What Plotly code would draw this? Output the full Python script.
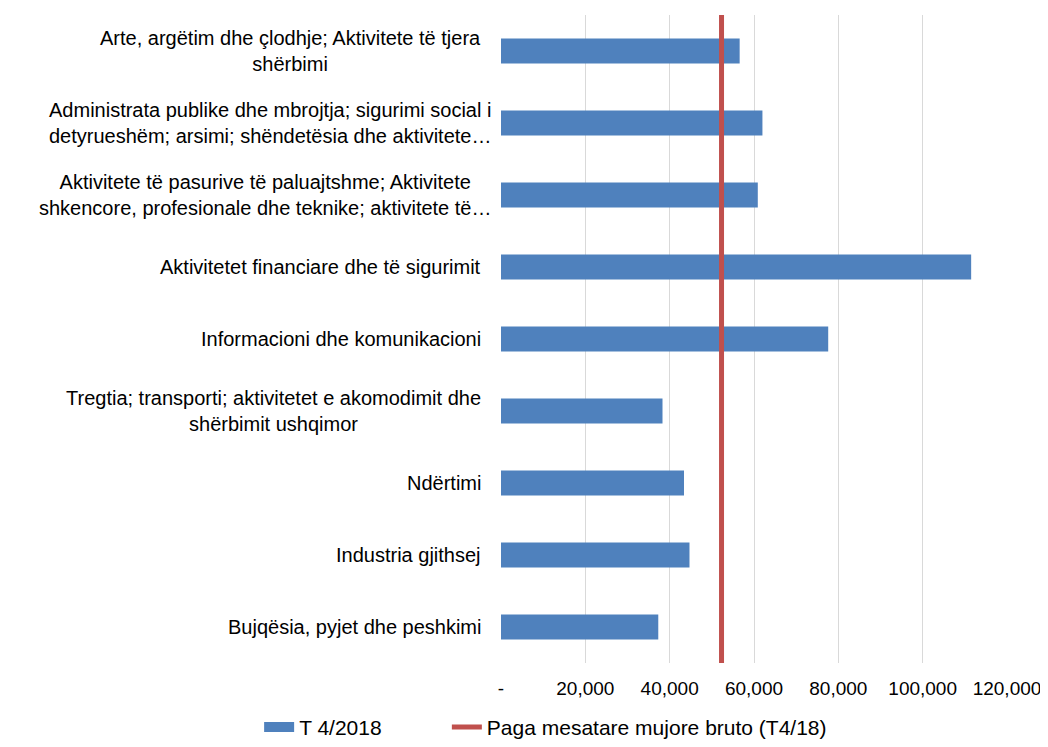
import plotly.graph_objects as go

categories = [
    "Arte, argëtim dhe çlodhje; Aktivitete të tjera<br>shërbimi",
    "Administrata publike dhe mbrojtja; sigurimi social i<br>detyrueshëm; arsimi; shëndetësia dhe aktivitete…",
    "Aktivitete të pasurive të paluajtshme; Aktivitete<br>shkencore, profesionale dhe teknike; aktivitete të…",
    "Aktivitetet financiare dhe të sigurimit",
    "Informacioni dhe komunikacioni",
    "Tregtia; transporti; aktivitetet e akomodimit dhe<br>shërbimit ushqimor",
    "Ndërtimi",
    "Industria gjithsej",
    "Bujqësia, pyjet dhe peshkimi",
]
wages_q4_2018 = [56600, 62000, 60900, 111500, 77600, 38300, 43400, 44700, 37300]
average_wage = 52300
bar_name = "T 4/2018"
line_name = "Paga mesatare mujore bruto (T4/18)"
tick_values = [0, 20000, 40000, 60000, 80000, 100000, 120000]
tick_labels = ["-", "20,000", "40,000", "60,000", "80,000", "100,000", "120,000"]

BLUE = "#4f81bd"
RED = "#c0504d"
FONT = "Liberation Sans, Arial, sans-serif"

fig = go.Figure()
fig.add_trace(go.Bar(
    x=wages_q4_2018, y=categories, orientation="h",
    marker=dict(color=BLUE, line=dict(width=0)),
    width=0.35, showlegend=False, name=bar_name,
))
# legend entry for bars (wide patch)
fig.add_trace(go.Scatter(
    x=[None], y=[None], mode="lines", name=bar_name,
    line=dict(color=BLUE, width=10), showlegend=True, legend="legend",
))
fig.add_trace(go.Scatter(
    x=[average_wage, average_wage], y=[0, 1], yaxis="y2", mode="lines",
    name=line_name, line=dict(color=RED, width=5), showlegend=True,
    legend="legend2",
))

annotations = []
for c in categories:
    shift = -8 if "…" in c else -18
    annotations.append(dict(
        x=0, xref="paper", y=c, yref="y", text=c, showarrow=False,
        xanchor="right", yanchor="middle", align="center", xshift=shift,
        font=dict(family=FONT, size=20, color="#000000"),
    ))

legend_common = dict(
    orientation="h", xref="paper", yref="paper", y=-0.0993,
    xanchor="left", yanchor="middle",
    font=dict(family=FONT, size=21, color="#000000"),
    bgcolor="rgba(0,0,0,0)",
)

fig.update_layout(
    width=1040, height=731,
    margin=dict(l=493, r=41, t=7, b=76, autoexpand=False),
    plot_bgcolor="white", paper_bgcolor="white",
    font=dict(family=FONT, size=20, color="#000000"),
    xaxis=dict(
        range=[0, 120000], tickvals=tick_values, ticktext=tick_labels,
        showgrid=True, gridcolor="#d9d9d9", gridwidth=1.3,
        zeroline=False, showline=False,
        ticks="outside", ticklen=8, tickcolor="rgba(0,0,0,0)",
        tickfont=dict(family=FONT, size=19, color="#000000"),
        automargin=False,
    ),
    yaxis=dict(
        autorange="reversed", showticklabels=False, showgrid=False,
        zeroline=False, showline=False, ticks="",
    ),
    yaxis2=dict(
        overlaying="y", range=[0, 1], visible=False, showgrid=False,
    ),
    legend=dict(x=-0.478, **legend_common),
    legend2=dict(x=-0.107, **legend_common),
    annotations=annotations,
    bargap=0.65,
)

fig.write_html("out.html", config={"responsive": False})
